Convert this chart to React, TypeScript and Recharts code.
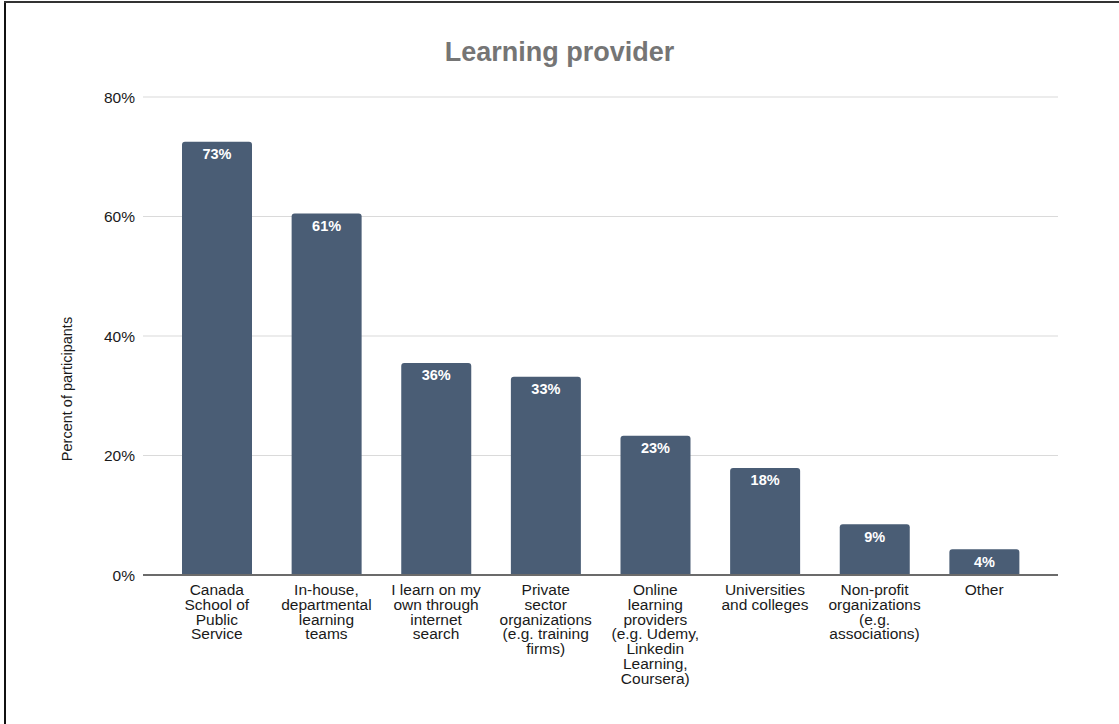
import React from "react";
import { BarChart, Bar, XAxis, YAxis, CartesianGrid, LabelList } from "recharts";

const categories = [
  "Canada School of Public Service",
  "In-house, departmental learning teams",
  "I learn on my own through internet search",
  "Private sector organizations (e.g. training firms)",
  "Online learning providers (e.g. Udemy, Linkedin Learning, Coursera)",
  "Universities and colleges",
  "Non-profit organizations (e.g. associations)",
  "Other",
];

const tickLabels = [
  "Canada\nSchool of\nPublic\nService",
  "In-house,\ndepartmental\nlearning\nteams",
  "I learn on my\nown through\ninternet\nsearch",
  "Private\nsector\norganizations\n(e.g. training\nfirms)",
  "Online\nlearning\nproviders\n(e.g. Udemy,\nLinkedin\nLearning,\nCoursera)",
  "Universities\nand colleges",
  "Non-profit\norganizations\n(e.g.\nassociations)",
  "Other",
];

const percentValues = [72.5, 60.5, 35.5, 33.2, 23.3, 17.9, 8.5, 4.3];

const yTicks = [0, 20, 40, 60, 80];

const data = categories.map((c, i) => ({
  category: c,
  tick: tickLabels[i],
  value: percentValues[i],
}));

const FONT = "'Liberation Sans', Arial, Helvetica, sans-serif";

const MultiLineTick = (props: any) => {
  const { x, y, payload } = props;
  const idx = categories.indexOf(payload.value);
  const lines = (idx >= 0 ? tickLabels[idx] : String(payload.value)).split("\n");
  return (
    <text x={x} y={y} textAnchor="middle" fontSize={15.5} fill="#1a1a1a" fontFamily={FONT}>
      {lines.map((l, i) => (
        <tspan key={i} x={x} dy={i === 0 ? 20 : 14.8}>
          {l}
        </tspan>
      ))}
    </text>
  );
};

const YLabel = (props: any) => {
  const vb = props.viewBox || { x: 0, y: 97, width: 143, height: 478 };
  const cx = vb.x + 67;
  const cy = vb.y + vb.height / 2 + 53;
  return (
    <text
      x={cx}
      y={cy}
      transform={`rotate(-90, ${cx}, ${cy})`}
      textAnchor="middle"
      dominantBaseline="central"
      fontSize={14.5}
      fill="#1a1a1a"
      fontFamily={FONT}
    >
      Percent of participants
    </text>
  );
};

export default function App() {
  return (
    <div
      style={{
        position: "absolute",
        left: 0,
        top: 0,
        width: 1119,
        height: 724,
        background: "#fff",
        overflow: "hidden",
        fontFamily: FONT,
      }}
    >
      <div style={{ position: "absolute", left: 4, top: 1, width: 2, height: 723, background: "#111" }} />
      <div style={{ position: "absolute", left: 4, top: 1, width: 1115, height: 2, background: "#333" }} />
      <div
        style={{
          position: "absolute",
          left: 0,
          width: 1119,
          top: 35,
          textAlign: "center",
          fontSize: 27,
          fontWeight: "bold",
          color: "#757575",
          fontFamily: FONT,
          lineHeight: "34px",
        }}
      >
        Learning provider
      </div>
      <div style={{ position: "absolute", left: 0, top: 0 }}>
        <BarChart
          width={1119}
          height={724}
          data={data}
          margin={{ top: 97, right: 61, bottom: 0, left: 0 }}
          style={{ fontFamily: FONT }}
        >
          <CartesianGrid vertical={false} stroke="#dadada" strokeWidth={1.2} />
          <XAxis
            dataKey="category"
            interval={0}
            tickLine={false}
            tickSize={0}
            tickMargin={0}
            axisLine={{ stroke: "#6b6b6b", strokeWidth: 1.8 }}
            tick={<MultiLineTick />}
            padding={{ left: 19, right: 19 }}
            height={149}
          />
          <YAxis
            width={143}
            domain={[0, 80]}
            ticks={yTicks}
            axisLine={false}
            tickLine={false}
            tickSize={0}
            tickMargin={8}
            tickFormatter={(v: number) => `${v}%`}
            tick={{ fontSize: 15.5, fill: "#1a1a1a", fontFamily: FONT }}
            label={<YLabel />}
          />
          <Bar dataKey="value" fill="#4a5d75" barSize={70} radius={[3, 3, 0, 0]} isAnimationActive={false}>
            <LabelList
              dataKey="value"
              position="insideTop"
              offset={7}
              fill="#ffffff"
              fontSize={14.5}
              fontWeight="bold"
              fontFamily={FONT}
              formatter={(v: any) => `${Math.round(Number(v))}%`}
            />
          </Bar>
        </BarChart>
      </div>
    </div>
  );
}
